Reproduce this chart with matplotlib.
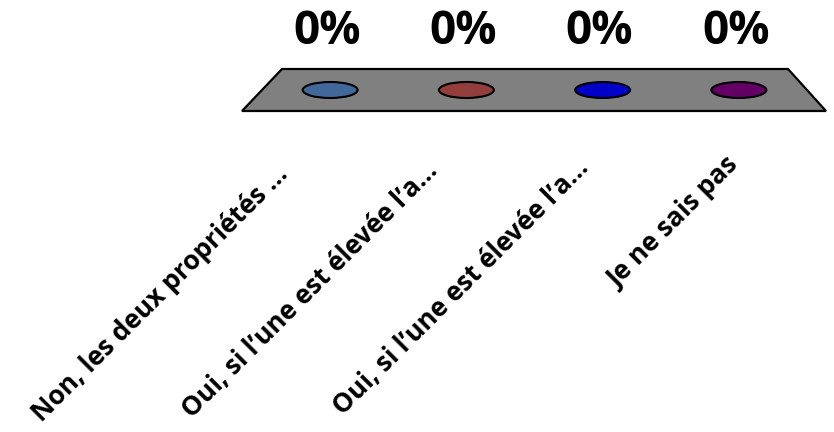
import matplotlib
matplotlib.use('Agg')
from matplotlib import pyplot as plt
from matplotlib.patches import Polygon, Ellipse, Rectangle
import numpy as np

categories = ['Non, les deux propriétés ...',
              'Oui, si l\u2019une est élevée l\u2019a...',
              'Oui, si l\u2019une est élevée l\u2019a...',
              'Je ne sais pas']
values = [0.0, 0.0, 0.0, 0.0]
colors = ['#40689A', '#933D3D', '#0000C8', '#640064']

W, H = 834, 432
fig = plt.figure(figsize=(W / 100, H / 100), dpi=100)
ax = fig.add_axes([0, 0, 1, 1])
ax.set_xlim(0, W)
ax.set_ylim(H, 0)
ax.axis('off')

# floor of the 3d chart (pixel space)
back_y, front_y = 69, 111
back_l, back_r = 282, 788
front_l, front_r = 242, 826
floor = Polygon([(back_l, back_y), (back_r, back_y), (front_r, front_y), (front_l, front_y)],
                closed=True, facecolor='#808080', edgecolor='black', lw=1.6, zorder=1)
ax.add_patch(floor)

n = len(values)
mid_y = (back_y + front_y) / 2
mid_l = (back_l + front_l) / 2
mid_r = (back_r + front_r) / 2
slot = (mid_r - mid_l) / n
height_px = 60  # pixels for 100 %

# category labels sit along a slightly tilted line below the floor
lab_x = np.linspace(289, 740, n)
lab_y = np.linspace(175, 166, n)

for i, (v, c) in enumerate(zip(values, colors)):
    x = mid_l + (i + 0.5) * slot
    top = mid_y - v * height_px
    if v > 0:
        ax.add_patch(Rectangle((x - 27, top), 54, mid_y - top, facecolor=c,
                               edgecolor='black', lw=1.5, zorder=2))
    ax.add_patch(Ellipse((x, top), 55, 16, facecolor=c, edgecolor='black',
                         lw=1.5, zorder=3))
    ax.text(x - 3, top - 46, f'{v:.0%}', ha='center', va='baseline',
            fontsize=33, fontweight='bold', family='Open Sans', zorder=4)

    ax.text(lab_x[i], lab_y[i], categories[i], rotation=45, rotation_mode='anchor',
            ha='right', va='baseline', fontsize=19, fontweight='bold',
            family='Open Sans')

fig.savefig('out.png', dpi=100)
